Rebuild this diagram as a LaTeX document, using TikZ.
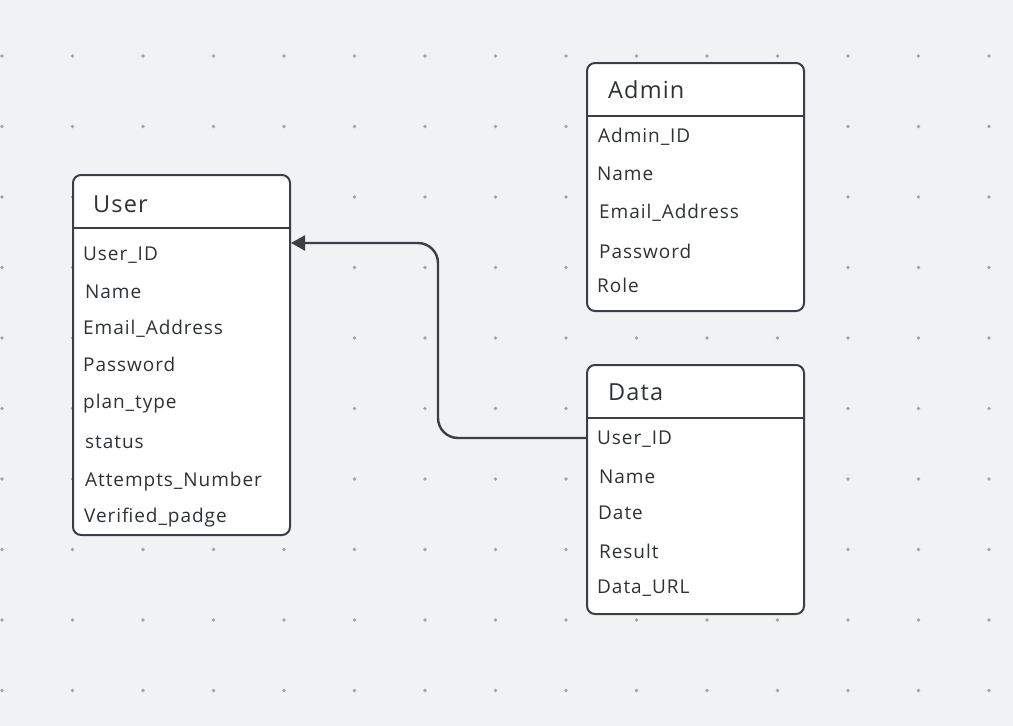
\documentclass[tikz,border=0pt]{standalone}
\usepackage{fontspec}
\setmainfont[LetterSpace=5]{Open Sans}
\usetikzlibrary{arrows.meta}
\definecolor{canvas}{HTML}{F1F2F4}
\definecolor{ink}{HTML}{3A3E45}
\definecolor{gridDot}{HTML}{A2A4A8}
\tikzset{
  tbl/.style={draw=ink, fill=white, line width=2pt, rounded corners=8pt, anchor=north west, inner sep=0pt},
  ttl/.style={anchor=base west, inner sep=0pt, text=ink!80!black, font=\fontsize{23.5}{23.5}\selectfont},
  fld/.style={anchor=base west, inner sep=0pt, text=ink!80!black, font=\fontsize{19}{19}\selectfont},
  link/.style={draw=ink, line width=2.4pt, rounded corners=20pt, -{Triangle[length=14pt,width=15pt]}}
}
\begin{document}
\begin{tikzpicture}[x=1pt,y=-1pt]
        % Canvas
        \fill[canvas] (0,0) rectangle (1013,726);
        \useasboundingbox (0,0) rectangle (1013,726);
        \foreach \i in {0,...,14}
          \foreach \j in {0,...,9}
            \fill[gridDot] (2+70.5*\i,56+70.5*\j) circle (1.8);

        % User table
        \node[tbl, minimum width=217pt, minimum height=360pt] (user) at (72,174) {};
        \draw[ink, line width=2pt] (user.west |- 0,228) -- (user.east |- 0,228);
        \node[ttl] (usertitle) at (93,212) {User};
        \node[fld] (uid) at (83,260) {User\_ID};
        \node[fld] (uname) at (85,298) {Name};
        \node[fld] (umail) at (83,334) {Email\_Address};
        \node[fld] (upass) at (83,371) {Password};
        \node[fld] (uplan) at (83,408) {plan\_type};
        \node[fld] (ustatus) at (85,448) {status};
        \node[fld] (uattempts) at (85,486) {Attempts\_Number};
        \node[fld] (uverified) at (84,522) {Verified\_padge};

        % Admin table
        \node[tbl, minimum width=217pt, minimum height=248pt] (admin) at (586,62) {};
        \draw[ink, line width=2pt] (admin.west |- 0,116) -- (admin.east |- 0,116);
        \node[ttl] (admintitle) at (608,98) {Admin};
        \node[fld] (aid) at (598,142) {Admin\_ID};
        \node[fld] (aname) at (597,180) {Name};
        \node[fld] (amail) at (599,218) {Email\_Address};
        \node[fld] (apass) at (599,258) {Password};
        \node[fld] (arole) at (597,292) {Role};

        % Data table
        \node[tbl, minimum width=217pt, minimum height=249pt] (data) at (586,364) {};
        \draw[ink, line width=2pt] (data.west |- 0,418) -- (data.east |- 0,418);
        \node[ttl] (datatitle) at (608,400) {Data};
        \node[fld] (did) at (597,444) {User\_ID};
        \node[fld] (dname) at (599,483) {Name};
        \node[fld] (ddate) at (598,519) {Date};
        \node[fld] (dresult) at (599,558) {Result};
        \node[fld] (durl) at (597,593) {Data\_URL};

        % Relation Data -> User
        \draw[link] (data.west |- 0,438) -- (438,438) -- (438,243) -- (user.east |- 0,243);
\end{tikzpicture}
\end{document}
